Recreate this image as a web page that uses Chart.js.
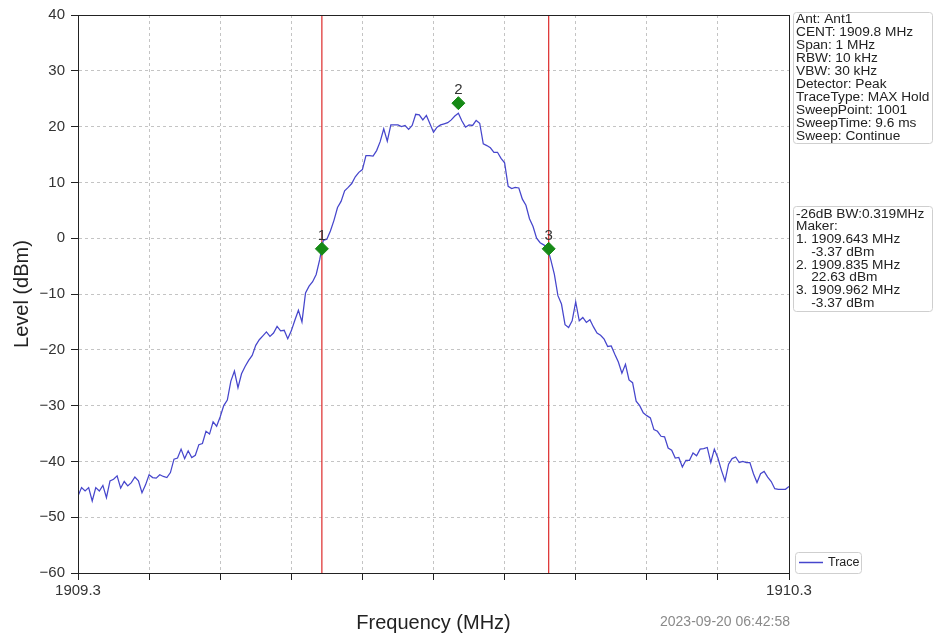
<!DOCTYPE html>
<html>
<head>
<meta charset="utf-8">
<script src="https://cdn.jsdelivr.net/npm/chart.js@4.4.1/dist/chart.umd.min.js"></script>
<style>
	html, body { margin: 0; padding: 0; background: #ffffff; }
	#wrap { width: 937px; height: 636px; }
</style>
</head>
<body>
<div id="wrap"><canvas id="spectrum" width="937" height="636"></canvas></div>
<script>
// sweep: 1909.3 .. 1910.3 MHz, one reading every 5 kHz
const START_MHZ = 1909.3;
const STOP_MHZ = 1910.3;
const STEP_MHZ = 0.005;

// trace levels (dBm)
const levelDbm = [
	-46.2, -44.7, -45.3, -44.7, -47.1, -44.7, -45.3, -44.3, -46.5, -43.5,
	-43.2, -42.6, -44.8, -43.6, -44.4, -43.8, -42.8, -43.5, -45.6, -44.2,
	-42.4, -42.9, -43.0, -42.4, -42.7, -42.9, -42.0, -39.6, -39.4, -37.8,
	-39.5, -38.1, -39.3, -38.9, -37.0, -36.8, -34.6, -35.1, -32.9, -33.7,
	-32.0, -30.0, -29.0, -25.6, -23.8, -26.8, -24.3, -23.0, -21.9, -21.0,
	-19.2, -18.2, -17.5, -16.8, -17.6, -17.0, -15.8, -16.6, -16.5, -18.0,
	-16.6, -14.7, -12.9, -15.0, -9.8, -8.6, -7.8, -6.5, -3.8, -0.4,
	-0.2, 1.3, 3.2, 5.5, 6.6, 8.5, 9.1, 9.8, 11.0, 11.8,
	12.3, 14.8, 14.8, 14.7, 15.7, 17.3, 19.6, 17.4, 20.3, 20.3,
	20.3, 20.0, 20.2, 19.5, 20.2, 22.2, 22.1, 21.2, 22.0, 20.5,
	19.0, 19.9, 20.3, 20.5, 20.7, 21.2, 21.9, 22.4, 21.0, 19.9,
	20.3, 20.2, 21.1, 20.6, 16.9, 16.6, 16.2, 15.4, 15.4, 14.3,
	13.5, 9.3, 8.9, 9.1, 9.0, 7.0, 5.9, 3.5, 2.1, 0.0,
	-0.8, -1.2, -1.5, -3.9, -6.5, -10.3, -11.8, -15.5, -16.0, -14.8,
	-11.4, -14.8, -14.2, -15.1, -14.6, -15.9, -17.0, -17.4, -18.1, -19.4,
	-19.3, -20.8, -22.2, -24.2, -22.6, -25.4, -25.9, -29.2, -30.0, -31.3,
	-31.8, -32.2, -34.3, -34.6, -35.5, -35.6, -37.6, -38.0, -39.4, -39.3,
	-41.0, -39.8, -39.8, -38.5, -39.0, -37.8, -37.7, -37.5, -40.2, -37.8,
	-39.4, -41.6, -43.5, -40.5, -39.5, -39.2, -40.2, -40.0, -40.2, -40.2,
	-42.2, -43.8, -42.2, -41.8, -42.8, -43.6, -44.9, -45.0, -45.0, -45.0,
	-44.5
];

// markers
const markerNames = ['1', '2', '3'];
const markerFreqs = [1909.643, 1909.835, 1909.962];
const markerLevels = [-1.9, 24.2, -1.9];
const cursorFreqs = [1909.643, 1909.962];

// axes
const Y_MIN = -60;
const Y_MAX = 40;
const Y_STEP = 10;
const X_STEP = 0.1;

// side panels
const infoLines = [
	'Ant: Ant1',
	'CENT: 1909.8 MHz',
	'Span: 1 MHz',
	'RBW: 10 kHz',
	'VBW: 30 kHz',
	'Detector: Peak',
	'TraceType: MAX Hold',
	'SweepPoint: 1001',
	'SweepTime: 9.6 ms',
	'Sweep: Continue'
];
const markerLines = [
	'-26dB BW:0.319MHz',
	'Maker:',
	'1. 1909.643 MHz',
	'    -3.37 dBm',
	'2. 1909.835 MHz',
	'    22.63 dBm',
	'3. 1909.962 MHz',
	'    -3.37 dBm'
];
const legendLabel = 'Trace';
const stampText = '2023-09-20 06:42:58';

const FONT = '"Liberation Sans", Arial, sans-serif';
const TRACE_COLOR = '#4646cc';
const CURSOR_COLOR = '#dd2a2a';
const MARKER_COLOR = '#168a16';

let tracePoints = levelDbm.map((v, i) => ({ x: START_MHZ + i * STEP_MHZ, y: v }));
let markerPoints = markerFreqs.map((f, i) => ({ x: f, y: markerLevels[i] }));

let cursorSets = cursorFreqs.map((f) => ({
	type: 'line',
	data: [{ x: f, y: Y_MIN }, { x: f, y: Y_MAX }],
	borderColor: CURSOR_COLOR,
	borderWidth: 1.2,
	pointRadius: 0,
	order: 3
}));

function drawBox(ctx, x, y, w, h)
{
	ctx.save();
	ctx.fillStyle = 'rgba(255,255,255,0.9)';
	ctx.strokeStyle = '#cfcfcf';
	ctx.lineWidth = 1;
	ctx.beginPath();
	ctx.roundRect(x + 0.5, y + 0.5, w, h, 3);
	ctx.fill();
	ctx.stroke();
	ctx.restore();
}

const extrasPlugin = {
	id: 'extras',
	afterDraw(chart) {
		const ctx = chart.ctx;
		const area = chart.chartArea;
		const xs = chart.scales.x;
		const ys = chart.scales.y;

		// frame round the plot
		ctx.save();
		ctx.strokeStyle = '#222';
		ctx.lineWidth = 1;
		ctx.strokeRect(Math.round(area.left) + 0.5, Math.round(area.top) + 0.5,
			Math.round(area.right - area.left), Math.round(area.bottom - area.top));
		ctx.restore();

		// marker numbers
		ctx.save();
		ctx.font = '15px ' + FONT;
		ctx.fillStyle = '#333';
		ctx.textAlign = 'center';
		ctx.textBaseline = 'alphabetic';
		for (let i = 0; i < markerNames.length; i++)
		{
			const px = xs.getPixelForValue(markerFreqs[i]);
			const py = ys.getPixelForValue(markerLevels[i]);
			ctx.fillText(markerNames[i], px, py - 9);
		}
		ctx.restore();

		// info panels
		const boxX = area.right + 4;
		const boxW = 139;
		drawBox(ctx, boxX, 12, boxW, 131);
		drawBox(ctx, boxX, 206, boxW, 105);
		ctx.save();
		ctx.font = '13.7px ' + FONT;
		ctx.fillStyle = '#222';
		ctx.textBaseline = 'middle';
		ctx.textAlign = 'left';
		infoLines.forEach((t, i) => ctx.fillText(t, boxX + 3, 19.5 + i * 13));
		markerLines.forEach((t, i) => ctx.fillText(t, boxX + 3, 214 + i * 12.7));
		ctx.restore();

		// legend
		drawBox(ctx, boxX + 2, 552, 66, 21);
		ctx.save();
		ctx.strokeStyle = TRACE_COLOR;
		ctx.lineWidth = 1.5;
		ctx.beginPath();
		ctx.moveTo(boxX + 6, 562.5);
		ctx.lineTo(boxX + 30, 562.5);
		ctx.stroke();
		ctx.font = '12.5px ' + FONT;
		ctx.fillStyle = '#222';
		ctx.textBaseline = 'middle';
		ctx.fillText(legendLabel, boxX + 35, 563);
		ctx.restore();

		// time stamp
		ctx.save();
		ctx.font = '14px ' + FONT;
		ctx.fillStyle = '#8a8a8a';
		ctx.textAlign = 'right';
		ctx.textBaseline = 'middle';
		ctx.fillText(stampText, area.right + 1, 622);
		ctx.restore();
	}
};

new Chart(document.getElementById('spectrum').getContext('2d'), {
	data: {
		datasets: [
			{
				type: 'scatter',
				data: markerPoints,
				pointStyle: 'rectRot',
				pointRadius: 6.5,
				backgroundColor: MARKER_COLOR,
				borderColor: MARKER_COLOR,
				borderWidth: 1,
				order: 1
			},
			{
				type: 'line',
				label: legendLabel,
				data: tracePoints,
				borderColor: TRACE_COLOR,
				borderWidth: 1.25,
				pointRadius: 0,
				tension: 0,
				order: 2
			},
			...cursorSets
		]
	},
	options: {
		responsive: false,
		animation: false,
		layout: { padding: { left: 0, top: 14, right: 148, bottom: 0 } },
		plugins: {
			legend: { display: false },
			tooltip: { enabled: false }
		},
		scales: {
			x: {
				type: 'linear',
				min: START_MHZ,
				max: STOP_MHZ,
				afterFit: (scale) => { scale.height = 63; },
				afterBuildTicks: (scale) => {
					let ticks = [];
					for (let k = 0; k <= 10; k++)
						ticks.push({ value: START_MHZ + k * X_STEP });
					scale.ticks = ticks;
				},
				ticks: {
					autoSkip: false,
					maxRotation: 0,
					padding: 2,
					color: '#333',
					font: { size: 15, family: FONT },
					callback: (value, index, ticks) => {
						if (index === 0 || index === ticks.length - 1)
							return Number(value).toFixed(1);
						return '';
					}
				},
				grid: {
					color: '#c4c4c4',
					tickColor: '#222',
					tickLength: 7,
					tickBorderDash: [],
					tickWidth: 1
				},
				border: { display: true, color: '#222', dash: [3, 3] },
				title: {
					display: true,
					text: 'Frequency (MHz)',
					color: '#222',
					font: { size: 20, family: FONT },
					padding: { top: 0, bottom: 1 }
				}
			},
			y: {
				type: 'linear',
				min: Y_MIN,
				max: Y_MAX,
				afterFit: (scale) => { scale.width = 78; },
				ticks: {
					stepSize: Y_STEP,
					padding: 6,
					color: '#333',
					font: { size: 15, family: FONT },
					callback: (value) => String(value).replace('-', '\u2212')
				},
				grid: {
					color: '#c4c4c4',
					tickColor: '#222',
					tickLength: 7,
					tickWidth: 1
				},
				border: { display: true, color: '#222', dash: [3, 3] },
				title: {
					display: true,
					text: 'Level (dBm)',
					color: '#222',
					font: { size: 20, family: FONT },
					padding: { top: 10, bottom: 0 }
				}
			}
		}
	},
	plugins: [extrasPlugin]
});
</script>
</body>
</html>
